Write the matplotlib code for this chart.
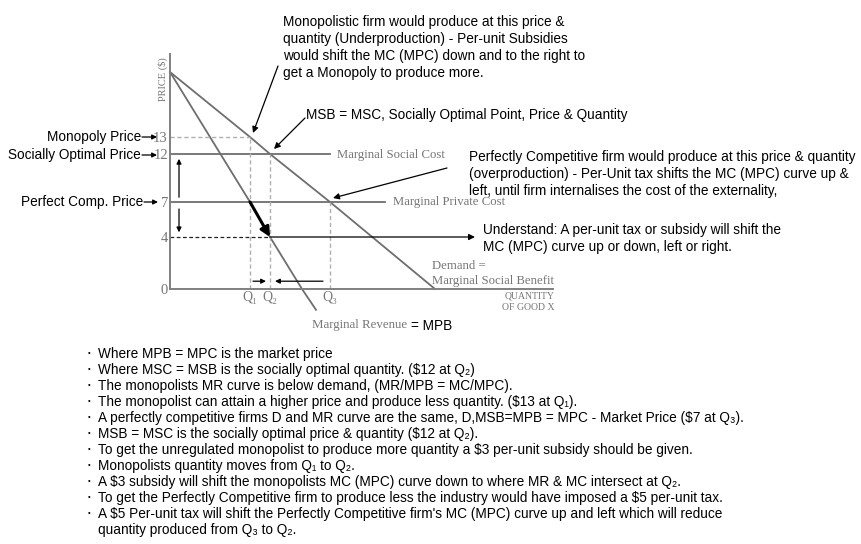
import numpy as np
import matplotlib.pyplot as plt

# Price ($) levels marked on the axis
price_ticks = [0, 4, 7, 12, 13]
price_labels = ['0', '4', '7', '12', '13']

# Quantity marks
q_ticks = [8, 10, 16]
q_labels = ['Q\u2081', 'Q\u2082', 'Q\u2083']

# Demand (= marginal social benefit) and marginal revenue
demand_q = [0, 8, 10, 16, 26.5]
demand_p = [20, 13, 12, 7, 0]
mr_q = [0, 8, 10, 13.2, 14.6]
mr_p = [20, 7, 4, 0, -1.6]

# Cost curves: (price, quantity where the line stops)
msc_price, msc_end = 12, 16
mpc_price, mpc_end = 7, 21.5
monopoly_price = 13
subsidy_price = 4

bullets = [
    "Where MPB = MPC is the market price",
    "Where MSC = MSB is the socially optimal quantity. ($12 at Q\u2082)",
    "The monopolists MR curve is below demand, (MR/MPB = MC/MPC).",
    "The monopolist can attain a higher price and produce less quantity. ($13 at Q\u2081).",
    "A perfectly competitive firms D and MR curve are the same, D,MSB=MPB = MPC - Market Price ($7 at Q\u2083).",
    "MSB = MSC is the socially optimal price & quantity ($12 at Q\u2082).",
    "To get the unregulated monopolist to produce more quantity a $3 per-unit subsidy should be given.",
    "Monopolists quantity moves from Q\u2081 to Q\u2082.",
    "A $3 subsidy will shift the monopolists MC (MPC) curve down to where MR & MC intersect at Q\u2082.",
    "To get the Perfectly Competitive firm to produce less the industry would have imposed a $5 per-unit tax.",
    "A $5 Per-unit tax will shift the Perfectly Competitive firm's MC (MPC) curve up and left which will reduce\n"
    "quantity produced from Q\u2083 to Q\u2082.",
]

note_monopoly = ["Monopolistic firm would produce at this price &",
                 "quantity (Underproduction) - Per-unit Subsidies",
                 "would shift the MC (MPC) down and to the right to",
                 "get a Monopoly to produce more."]
note_optimal = ["MSB = MSC, Socially Optimal Point, Price & Quantity"]
note_competitive = ["Perfectly Competitive firm would produce at this price & quantity",
                    "(overproduction) - Per-Unit tax shifts the MC (MPC) curve up &",
                    "left, until firm internalises the cost of the externality,"]
note_understand = ["Understand: A per-unit tax or subsidy will shift the",
                   "MC (MPC) curve up or down, left or right."]

W, H = 862, 544
SANS = ['Liberation Sans', 'DejaVu Sans']
SERIF = ['Liberation Serif', 'DejaVu Serif']
LINE = '#6e6e6e'
GREY_TXT = '#767676'
DASH = '#b0b0b0'
FS = 9.8

plt.rcParams['font.family'] = SANS

fig = plt.figure(figsize=(W / 100, H / 100), dpi=100)
ax = fig.add_axes([170 / W, 1 - 289 / H, 383 / W, 235 / H])

# the textbook axis is schematic, so prices are placed where the picture puts them
scale_p = [-5, 0, 4, 7, 12, 13, 20, 22, 30]
scale_h = [-65, 0, 52, 87, 135, 152, 217, 235, 320]
ax.set_yscale('function', functions=(lambda p: np.interp(p, scale_p, scale_h),
                                     lambda h: np.interp(h, scale_h, scale_p)))
ax.set_ylim(0, 22)
ax.set_xlim(0, 38.3)

for s in ['top', 'right']:
    ax.spines[s].set_visible(False)
for s in ['left', 'bottom']:
    ax.spines[s].set_color('#808080')
    ax.spines[s].set_linewidth(1.4)

ax.set_yticks(price_ticks)
ax.set_yticklabels(price_labels, fontfamily=SERIF, color=GREY_TXT, fontsize=10.5)
ax.set_xticks(q_ticks)
ax.set_xticklabels(q_labels, fontfamily=SERIF, color=GREY_TXT, fontsize=10)
ax.yaxis.set_minor_locator(plt.NullLocator())
ax.tick_params(axis='both', length=0, pad=1.5)

# curves
ax.plot(demand_q, demand_p, color=LINE, lw=1.3, clip_on=False)
ax.plot(mr_q, mr_p, color=LINE, lw=1.3, clip_on=False)
ax.plot([0, msc_end], [msc_price, msc_price], color=LINE, lw=1.3)
ax.plot([0, mpc_end], [mpc_price, mpc_price], color=LINE, lw=1.3)

# dashed guides
ax.plot([0, q_ticks[0]], [monopoly_price] * 2, color=DASH, lw=1, ls=(0, (3, 2)))
ax.plot([q_ticks[0]] * 2, [0, monopoly_price], color=DASH, lw=1, ls=(0, (3, 2)))
ax.plot([q_ticks[1]] * 2, [0, msc_price], color=DASH, lw=1, ls=(0, (3, 2)))
ax.plot([q_ticks[2]] * 2, [0, mpc_price], color=DASH, lw=1, ls=(0, (3, 2)))
ax.plot([0, q_ticks[1]], [subsidy_price] * 2, color='#222222', lw=0.9, ls=(0, (3, 2)))


def arrow(xy, xytext, coords='data', lw=0.9, ms=9):
    ax.annotate('', xy=xy, xytext=xytext, xycoords=coords, textcoords=coords,
                arrowprops=dict(arrowstyle='-|>', color='black', lw=lw,
                                mutation_scale=ms, shrinkA=0, shrinkB=0),
                annotation_clip=False)


def fp(x, y):
    return (x, H - y)


# arrows inside the graph
arrow((30.5, subsidy_price), (q_ticks[1], subsidy_price))
arrow((q_ticks[1], subsidy_price), (q_ticks[0], mpc_price), lw=2.2, ms=14)
arrow((9.6, 0.6), (8.3, 0.6), ms=7)
arrow((10.5, 0.6), (15.3, 0.6), ms=7)
arrow((0.9, 11.5), (0.9, 7.5), ms=7)
arrow((0.9, 4.4), (0.9, 6.4), ms=7)

# pointer arrows from notes
arrow(fp(253, 133), fp(278, 66), coords='figure pixels')
arrow(fp(274, 149), fp(305, 118), coords='figure pixels')
arrow(fp(333, 198), fp(447, 168), coords='figure pixels')
arrow(fp(157, 137), fp(142, 137), coords='figure pixels', ms=7)
arrow(fp(157, 155), fp(142, 155), coords='figure pixels', ms=7)
arrow(fp(158, 202), fp(144, 202), coords='figure pixels', ms=7)


def put(x, y, s, **kw):
    kw.setdefault('va', 'center')
    kw.setdefault('fontsize', FS)
    fig.text(x / W, 1 - y / H, s, **kw)


def put_lines(x, y, lines, step=17, **kw):
    for i, s in enumerate(lines):
        put(x, y + i * step, s, **kw)


serif = dict(family=SERIF, color=GREY_TXT)

put(163, 79, 'PRICE ($)', rotation=90, ha='center', fontsize=7.5, **serif)
put(337, 155, 'Marginal Social Cost', fontsize=9.2, **serif)
put(393, 202, 'Marginal Private Cost', fontsize=9.2, **serif)
put_lines(432, 266, ['Demand =', 'Marginal Social Benefit'], step=15, fontsize=9.2, **serif)
put_lines(555, 296, ['QUANTITY', 'OF GOOD X'], step=11, ha='right', fontsize=7, **serif)
put(312, 325, 'Marginal Revenue', fontsize=9.3, **serif)
put(411, 326, '= MPB')

put(141, 137, 'Monopoly Price', ha='right')
put(141, 155, 'Socially Optimal Price', ha='right')
put(143, 202, 'Perfect Comp. Price', ha='right')

put_lines(283, 22, note_monopoly)
put_lines(306, 115, note_optimal)
put_lines(469, 157, note_competitive)
put_lines(483, 230, note_understand)

y = 354
for b in bullets:
    put(88, y, '\u2022', fontsize=5.5)
    for p in b.split('\n'):
        put(98, y, p, fontsize=9.8)
        y += 16

fig.savefig('out.png', dpi=100)
